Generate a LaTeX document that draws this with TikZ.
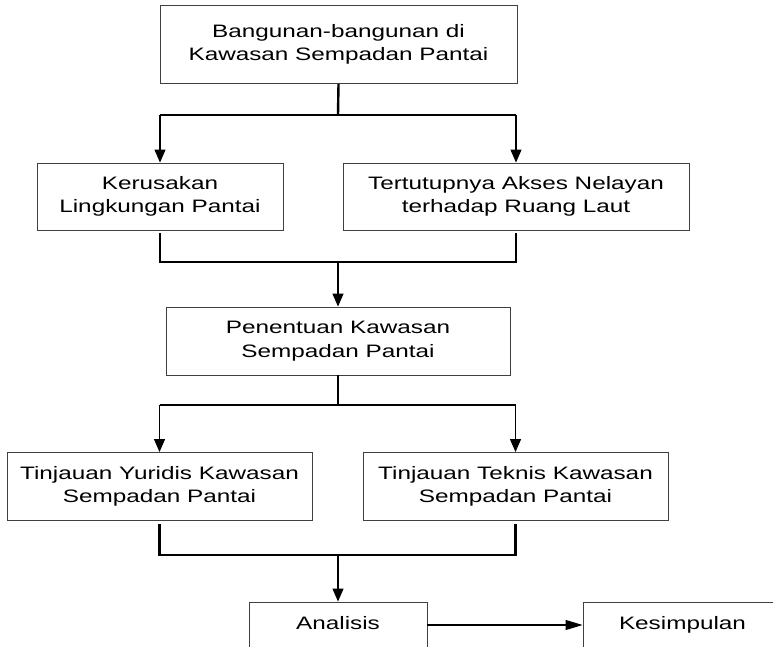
\documentclass[tikz,border=0pt]{standalone}
\usepackage{fontspec}
\usepackage{graphicx}
\setmainfont{Liberation Sans}
\usetikzlibrary{arrows.meta}
\newcommand\wtxt[1]{\scalebox{1.35}[1]{\begin{tabular}{@{}c@{}}#1\end{tabular}}}
\tikzset{
  box/.style={draw=black!75, line width=0.9pt, inner sep=0pt, align=center,
    font=\fontsize{18}{23.5}\selectfont},
  thk/.style={line width=2.4pt, draw=black},
  arr/.style={line width=1.2pt, draw=black, -{Triangle[width=11pt,length=13pt]}},
  arrh/.style={line width=1.1pt, draw=black, -{Triangle[width=10pt,length=17pt]}}
}
\begin{document}
\begin{tikzpicture}[x=1pt,y=-1pt]
\fill[white] (0,0) rectangle (773,647);
\path[use as bounding box, clip] (0,0) rectangle (773,647);
\node[box, minimum width=357pt, minimum height=78pt] (top) at (338.5,44.5) {\wtxt{Bangunan-bangunan di\\Kawasan Sempadan Pantai}};
\node[box, minimum width=246pt, minimum height=67pt] (ker) at (160,196.5) {\wtxt{Kerusakan\\Lingkungan Pantai}};
\node[box, minimum width=346pt, minimum height=67pt] (ter) at (516,196.5) {\wtxt{Tertutupnya Akses Nelayan\\terhadap Ruang Laut}};
\node[box, minimum width=344pt, minimum height=68pt] (pen) at (338,341) {\wtxt{Penentuan Kawasan\\Sempadan Pantai}};
\node[box, minimum width=305pt, minimum height=68pt] (yur) at (159.5,486.5) {\wtxt{Tinjauan Yuridis Kawasan\\Sempadan Pantai}};
\node[box, minimum width=305pt, minimum height=68pt] (tek) at (515.5,486.5) {\wtxt{Tinjauan Teknis Kawasan\\Sempadan Pantai}};
\node[box, minimum width=178pt, minimum height=46pt] (ana) at (338,625) {\wtxt{Analisis}};
\node[box, minimum width=199pt, minimum height=46pt] (kes) at (682.5,625) {\wtxt{Kesimpulan}};
\coordinate (j1) at (338,115);
\coordinate (j2) at (338,262);
\coordinate (j3) at (338,405);
\coordinate (j4) at (338,555);
% top -> row 2
\draw[thk] (top.south) -- (j1);
\draw[thk] (ker.north |- j1) -- (ter.north |- j1);
\draw[arr] (ker.north |- j1) -- (ker.north);
\draw[arr] (ter.north |- j1) -- (ter.north);
% row 2 -> penentuan
\draw[thk] ([yshift=-3pt]ker.south) -- (ker.south |- j2) -- (ter.south |- j2) -- ([yshift=-3pt]ter.south);
\draw[arr] (j2) -- (pen.north);
% penentuan -> row 4
\draw[thk] (pen.south) -- (j3);
\draw[thk] (yur.north |- j3) -- (tek.north |- j3);
\draw[arr] (yur.north |- j3) -- (yur.north);
\draw[arr] (tek.north |- j3) -- (tek.north);
% row 4 -> analisis
\draw[thk] ([yshift=-3pt]yur.south) -- (yur.south |- j4) -- (tek.south |- j4) -- ([yshift=-3pt]tek.south);
\draw[arr] (j4) -- (ana.north);
% analisis -> kesimpulan
\draw[arrh] (ana.east) -- (kes.west);
\end{tikzpicture}
\end{document}
